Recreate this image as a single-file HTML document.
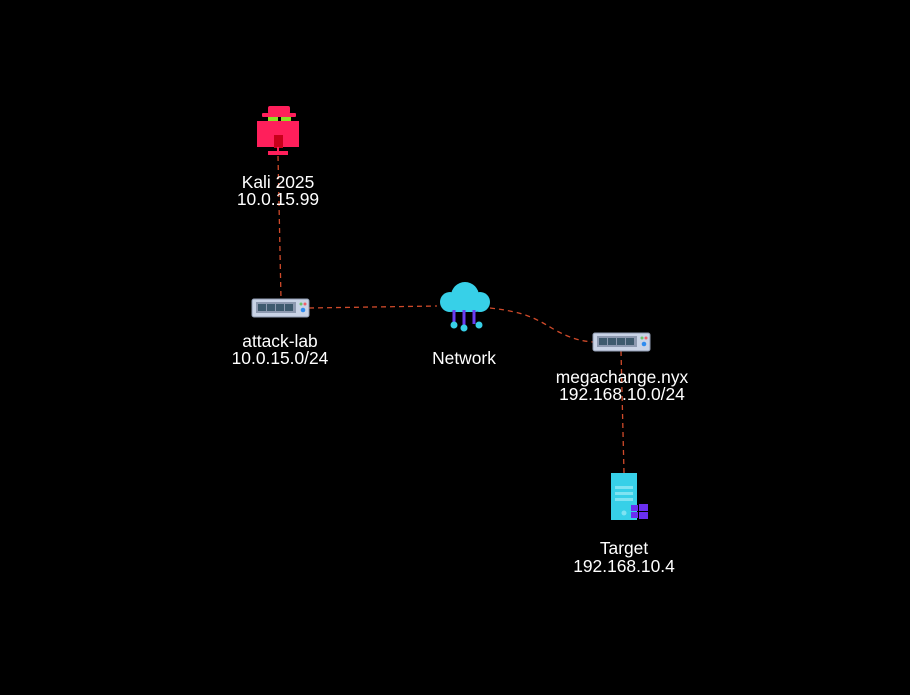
<!DOCTYPE html>
<html><head><style>
html,body{margin:0;padding:0;background:#000;}
svg{display:block}
text{font-family:"Liberation Sans",Arial,sans-serif;font-size:17.4px;fill:#fff;text-anchor:middle}
</style></head><body>
<svg width="910" height="695" viewBox="0 0 910 695" xmlns="http://www.w3.org/2000/svg">
<rect width="910" height="695" fill="#000"/>
<g stroke="#d04a2a" stroke-width="1.3" stroke-dasharray="5,4" fill="none">
<line x1="278" y1="156" x2="281" y2="299"/>
<line x1="309" y1="308" x2="437" y2="306"/>
<path d="M490 308 C525 312,535 318,555 330 C570 338,580 341,593 342"/>
<line x1="621" y1="351" x2="624" y2="473"/>
</g>
<!-- Kali -->
<rect x="268" y="106" width="22" height="8" rx="2" fill="#ff1f5b"/>
<rect x="262" y="113" width="34" height="4" rx="1" fill="#ff1f5b"/>
<rect x="268" y="117" width="10" height="4" fill="#8ce024"/>
<rect x="281" y="117" width="10" height="4" fill="#8ce024"/>
<rect x="257" y="121" width="42" height="26" fill="#ff1f5b"/>
<rect x="274" y="135" width="9" height="13" fill="#c8001a"/>
<rect x="268" y="151" width="20" height="4" fill="#ff1f5b"/>
<rect x="277" y="147" width="2" height="5" fill="#ff1f5b"/>
<text x="278" y="188">Kali 2025</text>
<text x="278" y="205">10.0.15.99</text>
<!-- attack-lab switch -->
<g transform="translate(252,299)">
<rect x="0" y="0" width="57" height="18" rx="2" fill="#c9d3e6" stroke="#8e9ab0"/>
<rect x="4" y="3" width="40" height="11" fill="#8d99b0"/>
<g fill="#3e5a6e"><rect x="6" y="5" width="8" height="7"/><rect x="15" y="5" width="8" height="7"/><rect x="24" y="5" width="8" height="7"/><rect x="33" y="5" width="8" height="7"/></g>
<circle cx="49" cy="5" r="1.5" fill="#6ac36a"/><circle cx="53" cy="5" r="1.5" fill="#f0606a"/><circle cx="51" cy="11" r="2.3" fill="#2f8cf0"/>
</g>
<text x="280" y="347">attack-lab</text>
<text x="280" y="364">10.0.15.0/24</text>
<!-- cloud -->
<g fill="#37d0e8">
<circle cx="465" cy="296" r="14"/><circle cx="450" cy="302" r="10"/><circle cx="480" cy="302" r="10"/>
<rect x="448" y="298" width="34" height="14" rx="7"/>
</g>
<g stroke="#6a3cf0" stroke-width="3"><line x1="454" y1="310" x2="454" y2="324"/><line x1="464" y1="310" x2="464" y2="326"/><line x1="474" y1="310" x2="474" y2="324"/></g>
<g fill="#37d0e8"><circle cx="454" cy="325" r="3.5"/><circle cx="464" cy="328" r="3.5"/><circle cx="479" cy="325" r="3.5"/></g>
<text x="464" y="364">Network</text>
<!-- megachange switch -->
<g transform="translate(593,333)">
<rect x="0" y="0" width="57" height="18" rx="2" fill="#c9d3e6" stroke="#8e9ab0"/>
<rect x="4" y="3" width="40" height="11" fill="#8d99b0"/>
<g fill="#3e5a6e"><rect x="6" y="5" width="8" height="7"/><rect x="15" y="5" width="8" height="7"/><rect x="24" y="5" width="8" height="7"/><rect x="33" y="5" width="8" height="7"/></g>
<circle cx="49" cy="5" r="1.5" fill="#6ac36a"/><circle cx="53" cy="5" r="1.5" fill="#f0606a"/><circle cx="51" cy="11" r="2.3" fill="#2f8cf0"/>
</g>
<text x="622" y="383">megachange.nyx</text>
<text x="622" y="400">192.168.10.0/24</text>
<!-- server -->
<rect x="611" y="473" width="26" height="47" fill="#37d0e8"/>
<g fill="#7fe3f2"><rect x="615" y="486" width="18" height="3"/><rect x="615" y="492" width="18" height="3"/><rect x="615" y="498" width="18" height="3"/></g>
<circle cx="624" cy="513" r="2.5" fill="#7fe3f2"/>
<g fill="#6a2ff0"><rect x="631" y="505" width="7" height="6"/><rect x="639" y="504" width="9" height="7"/><rect x="631" y="512" width="7" height="6"/><rect x="639" y="512" width="9" height="7"/></g>
<text x="624" y="554">Target</text>
<text x="624" y="572">192.168.10.4</text>
</svg>
</body></html>
